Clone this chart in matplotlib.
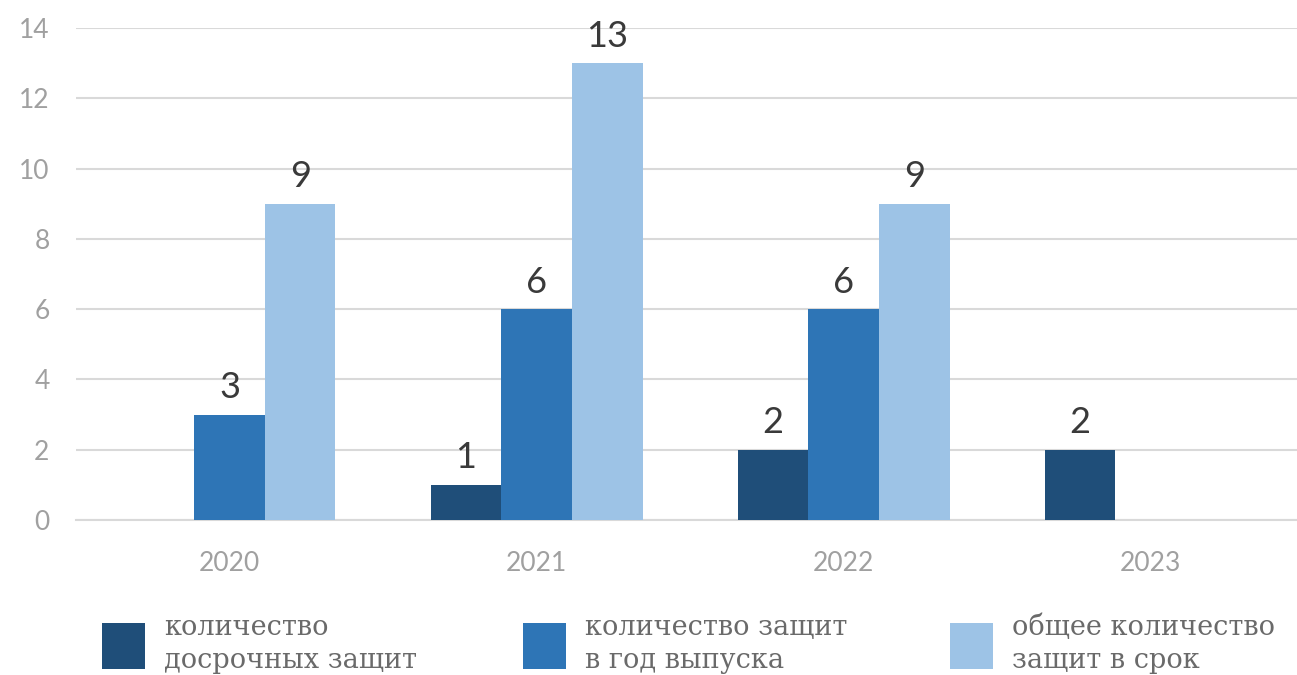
import matplotlib
matplotlib.use("Agg")
import matplotlib.pyplot as plt
import numpy as np

# data
years = ["2020", "2021", "2022", "2023"]
early = [0, 1, 2, 2]          # количество досрочных защит
release_year = [3, 6, 6, 0]   # количество защит в год выпуска
on_time = [9, 13, 9, 0]       # общее количество защит в срок
series_names = ["количество\nдосрочных защит",
                "количество защит\nв год выпуска",
                "общее количество\nзащит в срок"]
colors = ["#1F4E79", "#2E75B6", "#9DC3E6"]

fig = plt.figure(figsize=(12.97, 6.75), dpi=100)
ax = fig.add_axes([0.0586, 0.2296, 0.947, 0.729])

x = np.arange(len(years))
w = 0.23
bars = []
for i, vals in enumerate([early, release_year, on_time]):
    b = ax.bar(x + (i - 1) * w, vals, width=w, color=colors[i], zorder=3)
    bars.append(b)
    for xi, v in zip(x + (i - 1) * w, vals):
        if v > 0:
            ax.text(xi, v + 0.3, str(v), ha="center", va="bottom",
                    fontsize=26, color="#3a3a3a", family="Lato")

ax.set_xlim(-0.5, 3.5)
ax.set_ylim(0, 14)
ax.set_yticks(range(0, 15, 2))
ax.set_xticks(x)
ax.set_xticklabels(years)
ax.grid(axis="y", color="#d9d9d9", linewidth=1.5, zorder=0)
for s in ["top", "right", "left"]:
    ax.spines[s].set_visible(False)
ax.spines["bottom"].set_color("#d9d9d9")
ax.spines["bottom"].set_linewidth(1.5)
ax.tick_params(length=0, labelsize=19, labelcolor="#a0a0a0")
ax.tick_params(axis="x", pad=22)
ax.tick_params(axis="y", pad=19)
for lab in ax.get_xticklabels() + ax.get_yticklabels():
    lab.set_family("Lato")

# three legend entries spread across the bottom
anchors = [0.070, 0.395, 0.724]
for b, name, ax0 in zip(bars, series_names, anchors):
    leg = fig.legend([b], [name], loc="lower left", bbox_to_anchor=(ax0, -0.014),
                     frameon=False, handlelength=1.6, handleheight=2.2,
                     handletextpad=0.7, borderaxespad=0,
                     prop={"family": "DejaVu Serif", "size": 19.5})
    for t in leg.get_texts():
        t.set_color("#6a6a6a")
        t.set_linespacing(1.25)

fig.savefig("out.png", dpi=100)
